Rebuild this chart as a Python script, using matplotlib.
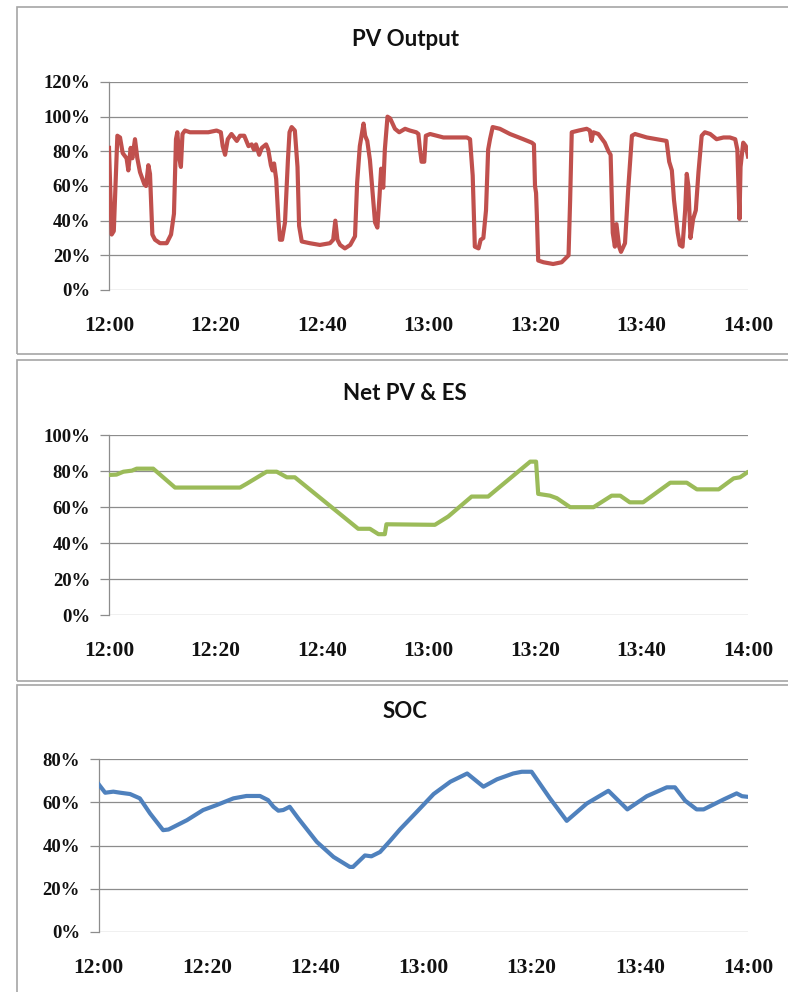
import matplotlib
matplotlib.use("Agg")
import matplotlib.pyplot as plt
from matplotlib.patches import Rectangle
from matplotlib.ticker import FuncFormatter

# ---------------- data (minutes after 12:00, percent) ----------------
pv_t = [0, 0.5, 0.9, 1.57, 2.07, 2.57, 3.3, 3.63, 4.07, 4.38, 4.88, 5.32, 5.82, 6.64, 6.95,
        7.39, 7.7, 8.14, 8.64, 9.58, 10.83, 11.65, 12.2, 12.58, 12.83, 13.2, 13.5, 13.8,
        14.27, 15.2, 17.1, 18.65, 20.2, 21.0, 21.35, 21.8, 22.3, 23.0, 24.0, 24.6, 25.4,
        26.2, 26.8, 27.2, 27.6, 28.2, 28.7, 29.5, 29.9, 30.4, 30.7, 31.0, 31.4, 31.8, 32.1,
        32.5, 33.05, 33.6, 33.9, 34.3, 34.9, 35.4, 35.7, 36.2, 37.7, 39.6, 41.5, 42.1, 42.5,
        42.9, 43.4, 44.3, 45.3, 46.2, 46.6, 47.1, 47.8, 48.1, 48.5, 49.0, 49.5, 49.96, 50.4,
        50.8, 51.1, 51.5, 51.8, 52.3, 52.8, 53.7, 54.5, 55.6, 56.5, 57.7, 58.1, 58.4, 58.7,
        59.2, 59.5, 60.3, 62.8, 65.3, 67.2, 67.8, 68.3, 68.7, 69.4, 69.8, 70.3, 70.8, 71.2,
        71.55, 72.05, 73.4, 75.3, 77.8, 79.4, 79.8, 80.0, 80.2, 80.35, 80.6, 81.6, 83.4, 85.0,
        86.3, 86.6, 86.9, 88.2, 89.7, 90.3, 90.6, 90.95, 91.9, 93.1, 93.8, 94.2, 94.6, 95.0,
        95.3, 95.8, 96.15, 96.9, 97.5, 98.2, 98.8, 101.0, 102.9, 104.7, 105.2, 105.7, 106.1,
        106.8, 107.2, 107.7, 108.2, 108.5, 108.8, 109.2, 109.7, 110.2, 110.7, 111.3, 111.9,
        112.9, 114.1, 115.4, 116.6, 117.6, 118.0, 118.4, 118.6, 119.1, 119.6, 120.0]
pv_v = [82, 32, 34, 89, 88, 79, 76, 69, 82, 76, 87, 76, 68, 61, 60,
        72, 67, 32, 29, 27, 27, 32, 44, 87, 91, 76, 71, 90,
        92, 91, 91, 91, 92, 91, 83, 78, 87, 90, 86, 89, 89,
        83, 84, 81, 84, 78, 82, 84, 81, 72, 69, 73, 64, 41, 29,
        29, 39, 75, 91, 94, 92, 71, 37, 28, 27, 26, 27, 29, 40,
        29, 26, 24, 26, 31, 62, 83, 96, 89, 86, 75, 56, 39, 36,
        54, 70, 59, 81, 100, 99, 93, 91, 93, 92, 91, 90, 81, 74,
        74, 89, 90, 88, 88, 88, 87, 66, 25, 24, 29, 30, 46, 81,
        87, 94, 93, 90, 87, 85, 84, 60, 56, 43, 17, 16, 15, 16,
        20, 52, 91, 92, 93, 92, 86, 91, 90, 85, 80, 78, 33, 25,
        38, 25, 22, 27, 58, 89, 90, 88, 87, 86, 74, 69, 52,
        33, 26, 25, 46, 67, 60, 30, 41, 46, 68, 89, 91,
        90, 87, 88, 88, 87, 81, 41, 71, 85, 83, 77]

net_t = [0, 1.4, 2.7, 4.3, 5.2, 8.3, 12.4, 24.6, 25.9, 29.6, 31.5, 33.4, 34.9, 46.8, 49.0,
         50.6, 51.8, 52.1, 61.2, 63.7, 68.1, 71.2, 79.1, 80.2, 80.6, 82.8, 84.1, 86.6, 91.0,
         94.4, 96.0, 97.8, 100.3, 105.4, 108.5, 110.4, 114.5, 117.3, 118.5, 119.8]
net_v = [77.8, 78, 79.6, 80.2, 81.3, 81.3, 70.8, 70.8, 73, 79.6, 79.6, 76.5, 76.5, 47.9, 47.9,
         44.9, 44.9, 50.4, 50.1, 54.7, 65.8, 65.8, 85.2, 85.2, 67.3, 66.3, 64.9, 59.9, 59.9,
         66.3, 66.3, 62.6, 62.6, 73.5, 73.5, 69.8, 69.8, 75.9, 76.5, 79.1]

soc_t = [0, 1.2, 2.7, 4.0, 5.8, 7.6, 9.5, 11.9, 12.9, 16.3, 19.3, 21.8, 24.9, 27.3, 29.8,
         31.3, 32.3, 33.2, 34.1, 35.3, 36.9, 40.3, 43.4, 46.4, 47.0, 49.2, 50.4, 52.0, 53.8,
         55.7, 58.8, 61.9, 65.0, 68.1, 71.1, 73.6, 76.6, 78.2, 80.0, 83.4, 86.5, 90.2, 94.2,
         97.7, 101.3, 105.0, 106.5, 108.4, 110.5, 111.8, 115.5, 117.9, 118.9, 120.0]
soc_v = [68.3, 64.4, 64.9, 64.4, 63.8, 61.8, 54.8, 47.1, 47.4, 51.7, 56.4, 58.7, 61.8, 62.9, 62.9,
         61.0, 57.9, 56.1, 56.4, 57.9, 52.5, 41.7, 34.7, 30.1, 30.1, 35.4, 35.0, 37.0, 42.0,
         47.5, 55.6, 63.8, 69.5, 73.3, 67.2, 70.6, 73.3, 74.1, 74.1, 61.8, 51.4, 59.4, 65.3,
         56.7, 62.8, 66.9, 66.9, 60.7, 56.7, 56.7, 61.3, 64.1, 62.8, 62.5]

x_ticks = [0, 20, 40, 60, 80, 100, 120]
x_labels = ["12:00", "12:20", "12:40", "13:00", "13:20", "13:40", "14:00"]
titles = ["PV Output", "Net PV & ES", "SOC"]

# ---------------- figure ----------------
W, H = 788, 992
fig = plt.figure(figsize=(W / 100, H / 100), dpi=100)
fig.patch.set_facecolor("white")

def fx(px):
    return px / W

def fy(py):
    return 1 - py / H

# panel frames
for top, bot in [(7, 354), (360, 681), (685, 1000)]:
    fig.patches.append(Rectangle((fx(17), fy(bot)), fx(800) - fx(17), fy(top) - fy(bot),
                                 transform=fig.transFigure, fill=False,
                                 edgecolor="#A6A6A6", linewidth=1.2, zorder=0))

tick_family = "Liberation Serif"
title_font = dict(family="Lato", weight="bold", size=16)
grid_col = "#8C8C8C"

specs = [
    (109, 748, 82, 290, 120, pv_t, pv_v, "#C0504D", 40),
    (109, 748, 435, 615, 100, net_t, net_v, "#9BBB59", 393),
    (98.7, 748, 759, 932, 80, soc_t, soc_v, "#4F81BD", 712),
]

for i, (l, r, t, b, ymax, tt, vv, col, ty) in enumerate(specs):
    ax = fig.add_axes([fx(l), fy(b), fx(r) - fx(l), fy(t) - fy(b)])
    ax.plot(tt, vv, color=col, linewidth=3.0, solid_joinstyle="round", zorder=3)
    ax.set_xlim(0, 120)
    ax.set_ylim(0, ymax)
    ax.set_yticks(list(range(0, ymax + 1, 20)))
    ax.yaxis.set_major_formatter(FuncFormatter(lambda v, p: f"{int(v)}%"))
    ax.set_xticks(x_ticks)
    ax.set_xticklabels(x_labels)
    ax.grid(axis="y", color=grid_col, linewidth=0.9)
    ax.set_axisbelow(True)
    for s in ["top", "right", "bottom"]:
        ax.spines[s].set_visible(False)
    ax.spines["left"].set_color(grid_col)
    ax.spines["left"].set_linewidth(0.9)
    ax.tick_params(axis="y", length=6.5, color=grid_col, width=0.9, pad=7,
                   labelsize=13.5, labelcolor="#111111")
    ax.tick_params(axis="x", length=0, pad=19, labelsize=15.5, labelcolor="#111111")
    for lab in ax.get_yticklabels() + ax.get_xticklabels():
        lab.set_fontfamily(tick_family)
        lab.set_fontweight("bold")
    ax.set_facecolor("none")
    fig.text(fx(405), fy(ty), titles[i], ha="center", va="center", color="#111111",
             **title_font)

fig.savefig("out.png", dpi=100, facecolor="white")
